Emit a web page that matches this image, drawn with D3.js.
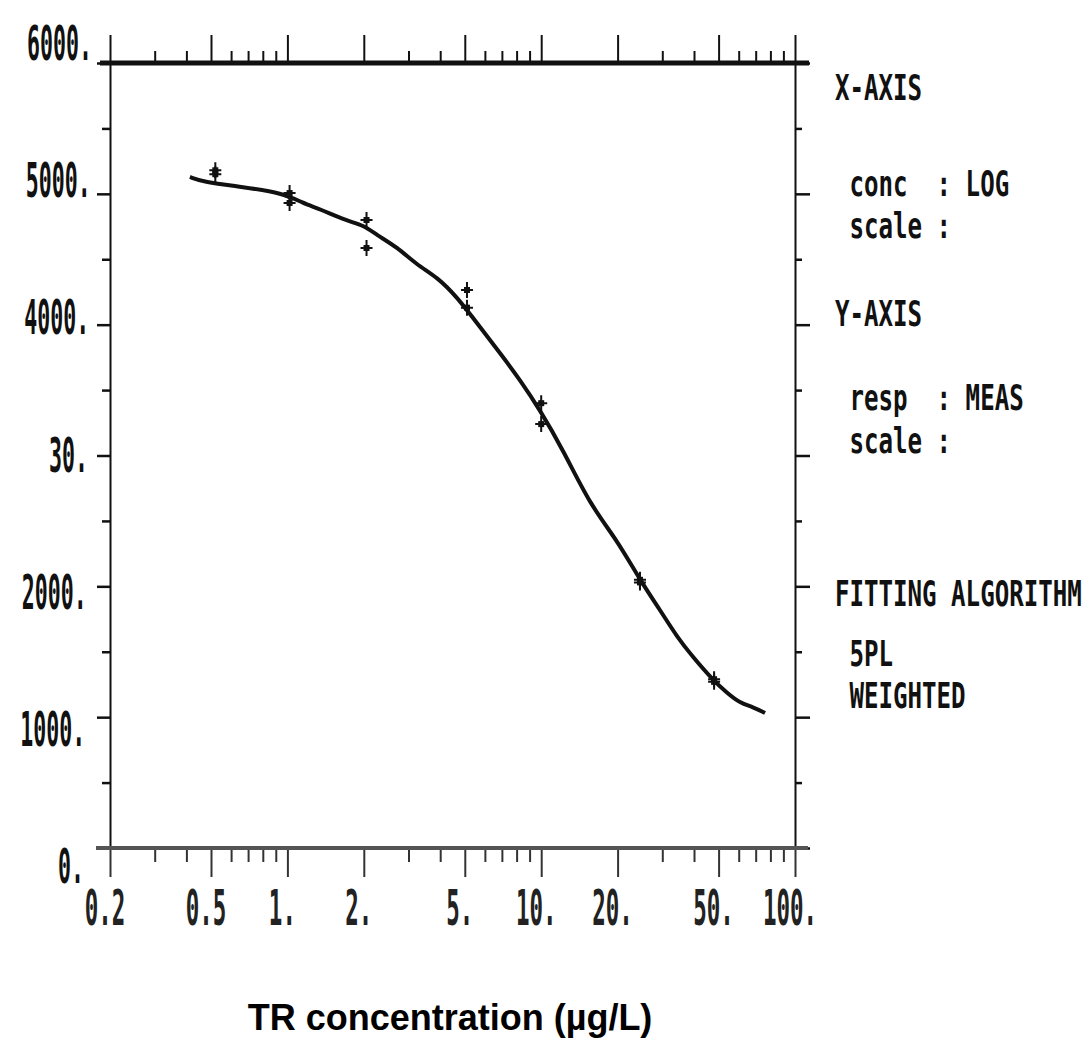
<!DOCTYPE html>
<html>
<head>
<meta charset="utf-8">
<script src="https://cdn.jsdelivr.net/npm/d3@7"></script>
<style>
	body { margin: 0; background: #fff; }
	svg { display: block; }
</style>
</head>
<body>
<svg id="chart" width="1086" height="1048"></svg>
<script>
// ---- data ----
const concMajor = [0.2, 0.5, 1, 2, 5, 10, 20, 50, 100];
const concMinor = [0.3, 0.4, 0.6, 0.7, 0.8, 0.9, 3, 4, 6, 7, 8, 9, 30, 40, 60, 70, 80, 90];
const xTickLabels = ["0.2", "0.5", "1.", "2.", "5.", "10.", "20.", "50.", "100."];

const respMajor = [0, 1000, 2000, 3000, 4000, 5000, 6000];
const respMinor = [500, 1500, 2500, 3500, 4500, 5500];
const yTickLabels = ["0.", "1000.", "2000.", "30.", "4000.", "5000.", "6000."];

// fitted 5PL curve as printed
const curveConc = [0.413, 0.465, 0.668, 0.961, 1.15, 1.34, 1.72, 1.99, 2.25, 2.70, 3.24, 3.89, 4.66, 5.74, 7.07, 8.25, 9.89, 12.2, 15.6, 19.9, 24.5, 29.4, 34.3, 39.6, 47.5, 54.0, 60.7, 68.3, 76.2];
const curveResp = [5129, 5091, 5052, 5006, 4930, 4884, 4792, 4762, 4685, 4594, 4456, 4364, 4212, 3982, 3753, 3577, 3348, 3042, 2622, 2354, 2048, 1819, 1613, 1460, 1284, 1185, 1108, 1078, 1032];

// measured standards (duplicates)
const pointConc = [0.52, 0.52, 1.02, 1.02, 2.05, 2.05, 5.1, 5.1, 10, 10, 24.5, 24.5, 48, 48];
const pointResp = [5180, 5150, 5006, 4930, 4800, 4586, 4265, 4130, 3400, 3240, 2050, 2030, 1290, 1270];

const panelLines = ["X-AXIS", " conc  : LOG", " scale :", "Y-AXIS", " resp  : MEAS", " scale :", "FITTING ALGORITHM", " 5PL", " WEIGHTED"];
const xTitle = "TR concentration (µg/L)";

// ---- layout ----
const plotLeft = 110, plotRight = 795, plotTop = 63, plotBottom = 848;
const panelBaselines = [100, 196, 238, 326, 410, 453, 606, 666, 708];
const ink = "#111";
const mono = "'DejaVu Sans Mono', monospace";

const svg = d3.select("#chart");

const xScale = d3.scaleLog().domain([0.2, 100]).range([plotLeft, plotRight]);
const yScale = d3.scaleLinear().domain([0, 6000]).range([plotBottom, plotTop]);
// printer rows/columns for the y labels drift a bit from the tick rows (scan skew)
const yLabelRow = d3.scaleLinear().domain([0, 6000]).range([883, 60]);
const yLabelCol = d3.scaleLinear().domain([0, 6000]).range([84, 92]);

const allConc = concMajor.concat(concMinor);
const allResp = respMajor.concat(respMinor);
const isMajorConc = (d) => concMajor.includes(d);
const isMajorResp = (d) => respMajor.includes(d);

// top axis: ticks pointing up
const topAxis = svg.append("g")
	.attr("transform", `translate(0,${plotTop})`)
	.call(d3.axisTop(xScale).tickValues(allConc).tickFormat("").tickSizeOuter(0));
topAxis.select(".domain").remove();
topAxis.selectAll(".tick line")
	.attr("y2", (d) => (isMajorConc(d) ? -28 : -12))
	.attr("stroke", ink)
	.attr("stroke-width", 2);

// bottom axis: ticks pointing down
const bottomAxis = svg.append("g")
	.attr("transform", `translate(0,${plotBottom})`)
	.call(d3.axisBottom(xScale).tickValues(allConc).tickFormat("").tickSizeOuter(0));
bottomAxis.select(".domain").remove();
bottomAxis.selectAll(".tick line")
	.attr("y2", (d) => (isMajorConc(d) ? 29 : 14))
	.attr("stroke", "#333")
	.attr("stroke-width", 2);

// left axis
const leftAxis = svg.append("g")
	.attr("transform", `translate(${plotLeft},0)`)
	.call(d3.axisLeft(yScale).tickValues(allResp).tickFormat("").tickSizeOuter(0));
leftAxis.select(".domain").attr("stroke", ink).attr("stroke-width", 2);
leftAxis.selectAll(".tick line")
	.attr("x2", (d) => (isMajorResp(d) ? -13 : -8))
	.attr("stroke", ink)
	.attr("stroke-width", 2.5);

// right axis
const rightAxis = svg.append("g")
	.attr("transform", `translate(${plotRight},0)`)
	.call(d3.axisRight(yScale).tickValues(allResp).tickFormat("").tickSizeOuter(0));
rightAxis.select(".domain").attr("stroke", ink).attr("stroke-width", 2);
rightAxis.selectAll(".tick line")
	.attr("x2", (d) => (isMajorResp(d) ? 15 : 7))
	.attr("stroke", ink)
	.attr("stroke-width", 2.5);

// heavy frame lines top and bottom
svg.append("line")
	.attr("x1", plotLeft - 10).attr("x2", plotRight + 14)
	.attr("y1", plotTop).attr("y2", plotTop)
	.attr("stroke", ink).attr("stroke-width", 5);
svg.append("line")
	.attr("x1", plotLeft - 14).attr("x2", plotRight + 13)
	.attr("y1", plotBottom).attr("y2", plotBottom)
	.attr("stroke", "#555").attr("stroke-width", 4);

// y labels (condensed dot-matrix style)
svg.append("g")
	.selectAll("text")
	.data(respMajor)
	.join("text")
	.attr("transform", (d) => `translate(${yLabelCol(d)},${yLabelRow(d)}) scale(0.45,1)`)
	.attr("text-anchor", "end")
	.attr("font-family", mono)
	.attr("font-weight", "bold")
	.attr("font-size", 48)
	.attr("fill", ink)
	.text((d, i) => yTickLabels[i]);

// x labels
svg.append("g")
	.selectAll("text")
	.data(concMajor)
	.join("text")
	.attr("transform", (d) => `translate(${xScale(d) - 5},925) scale(0.45,1)`)
	.attr("text-anchor", "middle")
	.attr("font-family", mono)
	.attr("font-weight", "bold")
	.attr("font-size", 50)
	.attr("fill", "#222")
	.text((d, i) => xTickLabels[i]);

// fitted curve
const curveData = curveConc.map((c, i) => ({ x: c, y: curveResp[i] }));
svg.append("path")
	.datum(curveData)
	.attr("fill", "none")
	.attr("stroke", ink)
	.attr("stroke-width", 4)
	.attr("stroke-linejoin", "round")
	.attr("d", d3.line().x((d) => xScale(d.x)).y((d) => yScale(d.y)).curve(d3.curveBasis));

// standards as "+" marks
const points = svg.append("g")
	.selectAll("g")
	.data(pointConc.map((c, i) => ({ x: c, y: pointResp[i] })))
	.join("g")
	.attr("transform", (d) => `translate(${xScale(d.x)},${yScale(d.y)})`);
points.append("path")
	.attr("d", "M0,-8V8M-6,0H6")
	.attr("stroke", ink)
	.attr("stroke-width", 2);
points.append("rect")
	.attr("x", -3).attr("y", -3)
	.attr("width", 6).attr("height", 6)
	.attr("fill", ink);

// right-hand info panel
svg.append("g")
	.selectAll("text")
	.data(panelLines)
	.join("text")
	.attr("transform", (d, i) => `translate(835,${panelBaselines[i]}) scale(0.67,1)`)
	.style("white-space", "pre")
	.attr("font-family", mono)
	.attr("font-weight", "bold")
	.attr("font-size", 36)
	.attr("fill", ink)
	.text((d) => d);

// axis title
svg.append("text")
	.attr("x", 450)
	.attr("y", 1030)
	.attr("text-anchor", "middle")
	.attr("font-family", "'Liberation Sans', Arial, sans-serif")
	.attr("font-weight", "bold")
	.attr("font-size", 36)
	.attr("fill", "#000")
	.text(xTitle);
</script>
</body>
</html>
